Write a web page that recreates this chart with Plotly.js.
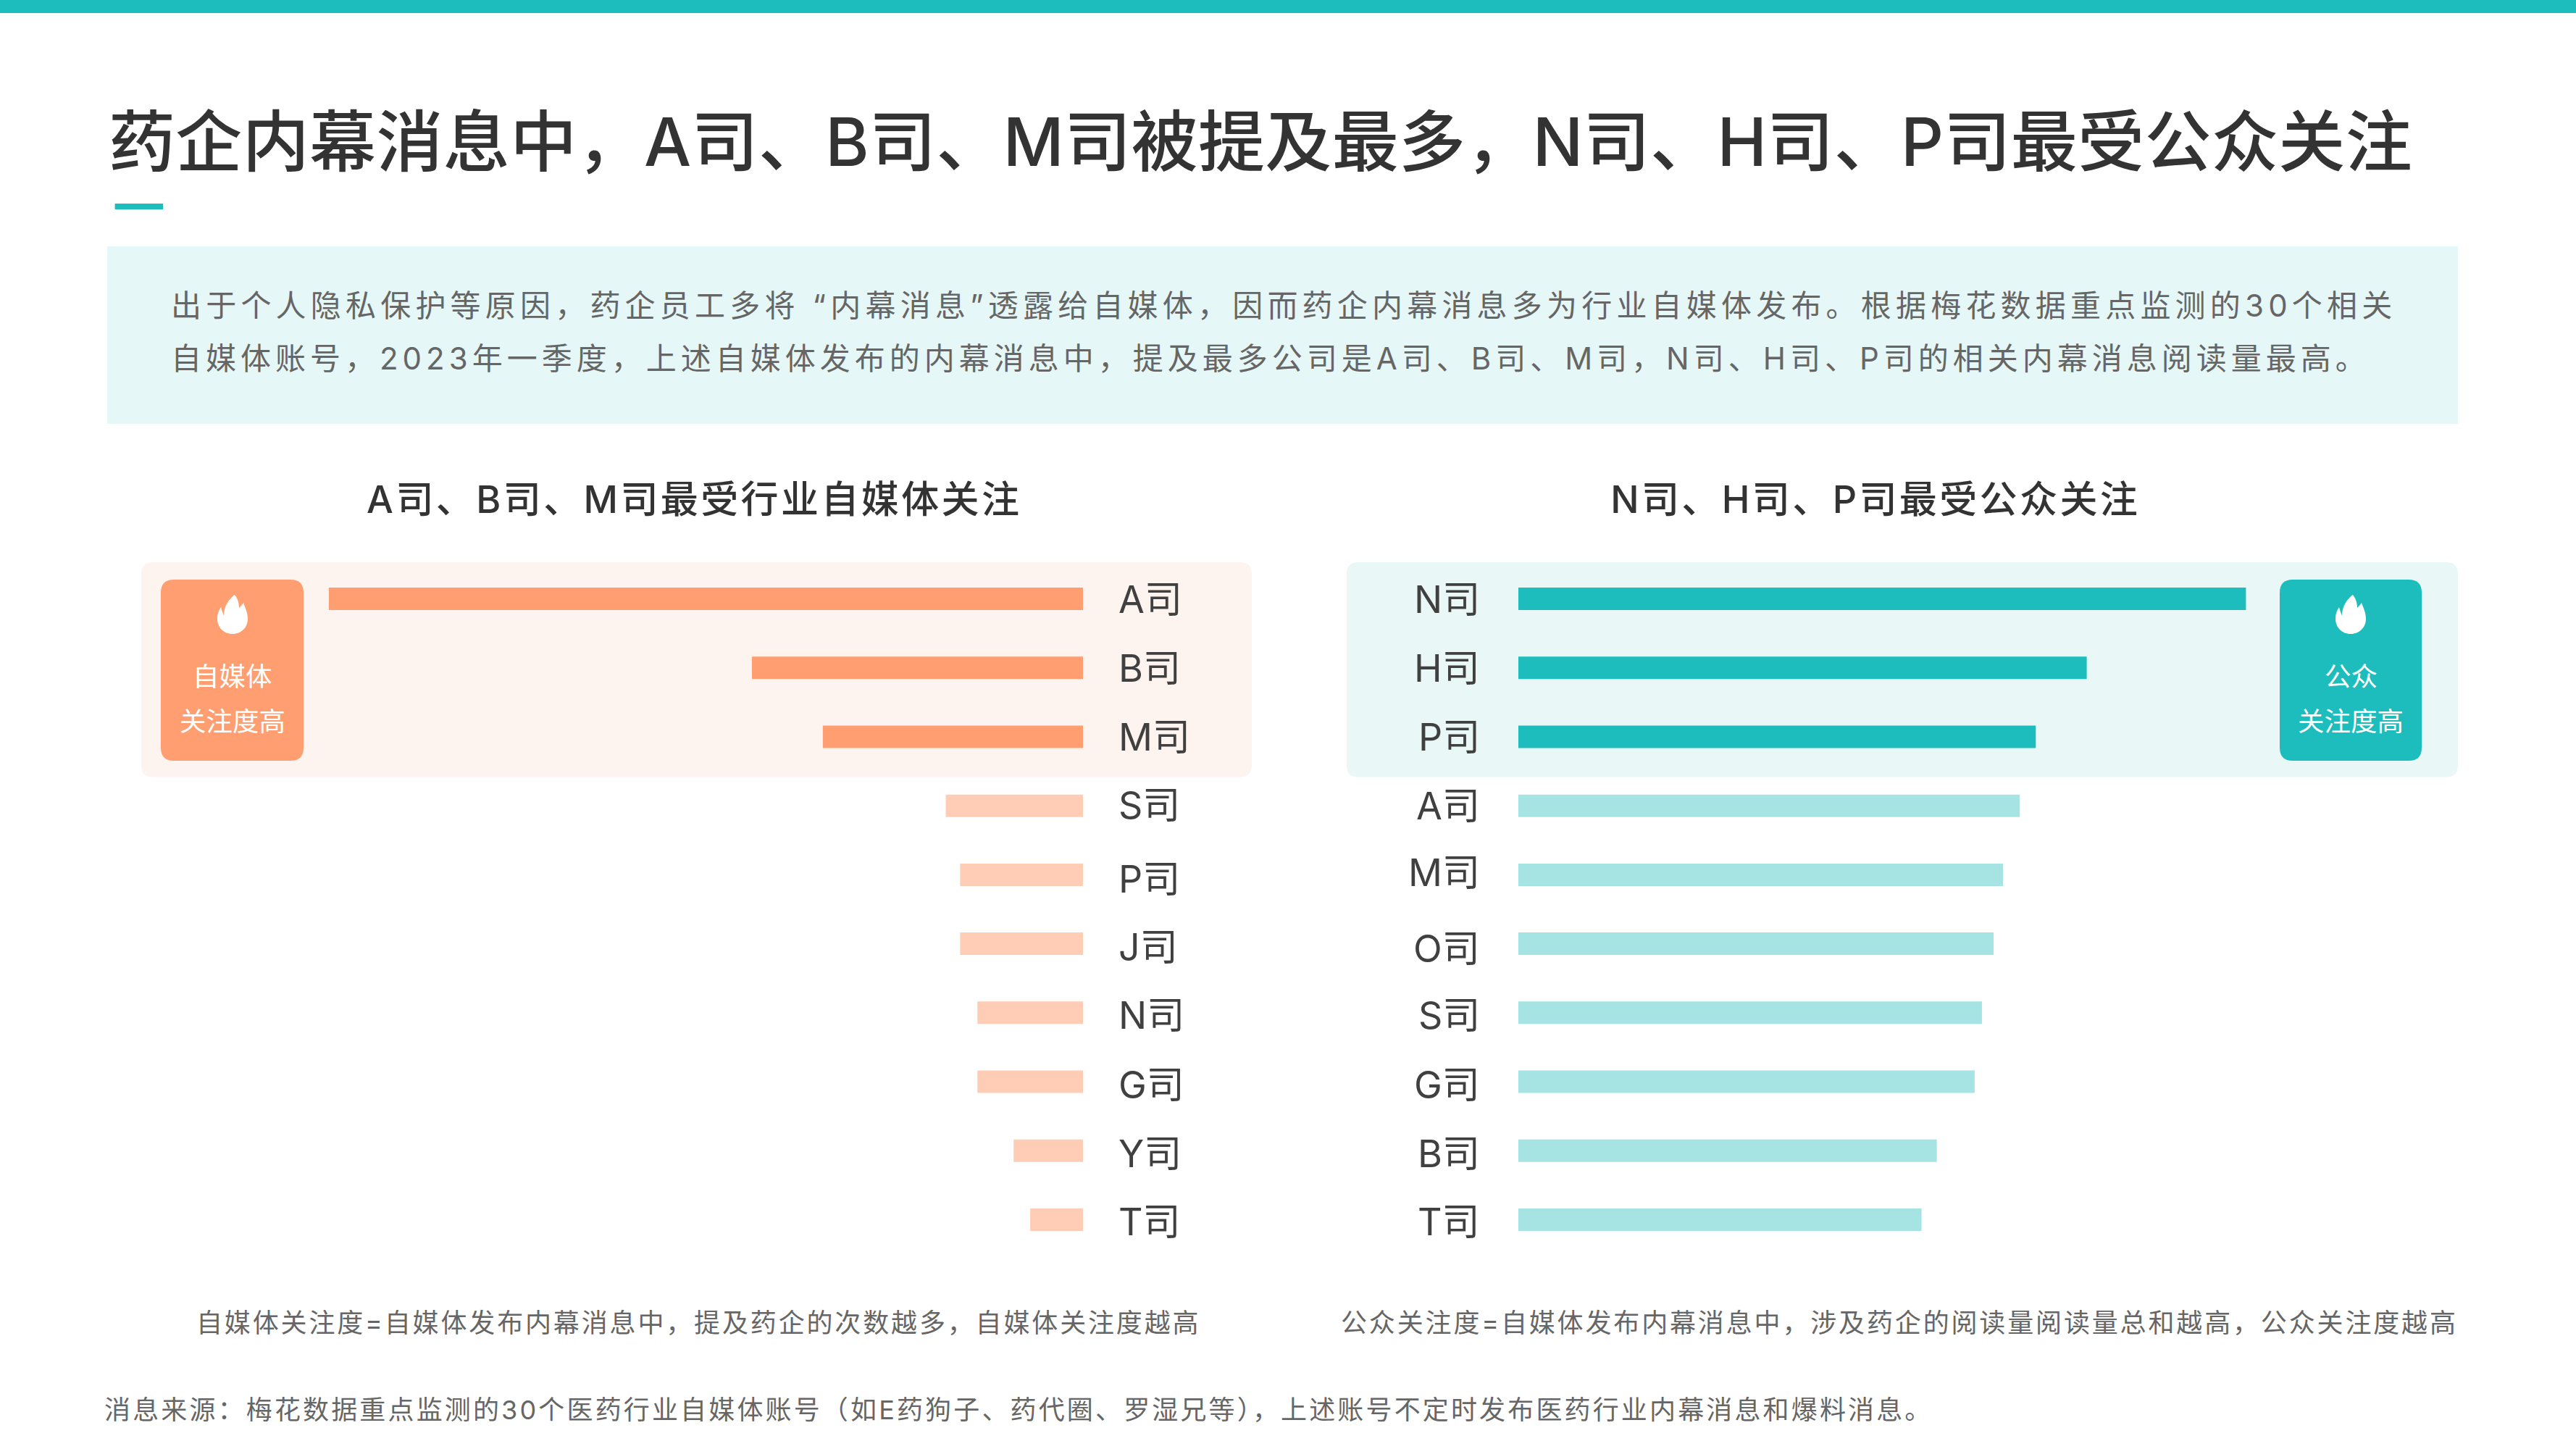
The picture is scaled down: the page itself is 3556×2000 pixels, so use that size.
<!DOCTYPE html>
<html><head><meta charset="utf-8">
<script src="https://cdn.plot.ly/plotly-3.0.1.min.js"></script>
<style>html,body{margin:0;padding:0;background:#fff}
.gtitle{letter-spacing:0.37px}</style>
</head><body><div id="chart" style="width:3556px;height:2000px"></div>
<script>
// ---- data ----
const mediaCompanies = ['A司','B司','M司','S司','P司','J司','N司','G司','Y司','T司'];
const mediaValues    = [100,43.9,34.5,18.2,16.3,16.3,14.0,14.0,9.2,7.0];
const publicCompanies = ['N司','H司','P司','A司','M司','O司','S司','G司','B司','T司'];
const publicValues    = [100,78.1,71.1,68.9,66.6,65.3,63.7,62.7,57.5,55.4];
const highlightCount = 3;

const titleText = '药企内幕消息中，A司、B司、M司被提及最多，N司、H司、P司最受公众关注';
const introLines = [
 '出于个人隐私保护等原因，药企员工多将 “内幕消息”透露给自媒体，因而药企内幕消息多为行业自媒体发布。根据梅花数据重点监测的30个相关',
 '自媒体账号，2023年一季度，上述自媒体发布的内幕消息中，提及最多公司是A司、B司、M司，N司、H司、P司的相关内幕消息阅读量最高。'];
const leftHeading = 'A司、B司、M司最受行业自媒体关注';
const rightHeading = 'N司、H司、P司最受公众关注';
const leftNote = '自媒体关注度=自媒体发布内幕消息中，提及药企的次数越多，自媒体关注度越高';
const rightNote = '公众关注度=自媒体发布内幕消息中，涉及药企的阅读量阅读量总和越高，公众关注度越高';
const sourceNote = '消息来源：梅花数据重点监测的30个医药行业自媒体账号（如E药狗子、药代圈、罗湿兄等），上述账号不定时发布医药行业内幕消息和爆料消息。';

// ---- style / layout ----
const W=3556,H=2000, CJK='Inter,"Noto Sans CJK SC","Noto Sans",sans-serif';
const TEAL='#1DBDBD',TEAL_L='#A6E4E4',TEAL_BG='#EAF7F7',ORANGE='#FF9F71',ORANGE_L='#FFCDB6',ORANGE_BG='#FEF4EF';
const px=v=>(v/W).toFixed(5), py=v=>(1-v/H).toFixed(5);
function rrect(x0,y0,x1,y1,r,fill){
  const p=`M${px(x0+r)},${py(y0)} L${px(x1-r)},${py(y0)} Q${px(x1)},${py(y0)} ${px(x1)},${py(y0+r)} L${px(x1)},${py(y1-r)} Q${px(x1)},${py(y1)} ${px(x1-r)},${py(y1)} L${px(x0+r)},${py(y1)} Q${px(x0)},${py(y1)} ${px(x0)},${py(y1-r)} L${px(x0)},${py(y0+r)} Q${px(x0)},${py(y0)} ${px(x0+r)},${py(y0)} Z`;
  return {type:'path',xref:'paper',yref:'paper',path:p,fillcolor:fill,line:{width:0},layer:'below'};
}
function box(x0,y0,x1,y1,fill){return {type:'rect',xref:'paper',yref:'paper',x0:x0/W,x1:x1/W,y0:1-y1/H,y1:1-y0/H,fillcolor:fill,line:{width:0},layer:'below'};}
function flame(cx,top){
  const P=(dx,dy)=>`${px(cx+dx)},${py(top+dy)}`;
  const d=`M${P(2.7,0)} C${P(-4,6)} ${P(-12,14)} ${P(-12,29)} C${P(-13,26)} ${P(-15,21)} ${P(-16,17)} C${P(-20,23)} ${P(-21,28)} ${P(-21,33)} C${P(-21,45)} ${P(-12,54)} ${P(0,54)} C${P(12,54)} ${P(21,45)} ${P(21,33)} C${P(21,24)} ${P(17,17)} ${P(15,11)} C${P(13,14)} ${P(11,16)} ${P(9,18)} C${P(9,10)} ${P(6,3)} ${P(2.7,0)} Z`;
  return {type:'path',xref:'paper',yref:'paper',path:d,fillcolor:'#fff',line:{width:0},layer:'above'};
}
const shapes=[
 box(0,0,W,18,TEAL), box(158.6,281,225,289,TEAL), box(148,340,3393,585,'#E6F7F7'),
 rrect(195,776,1728,1072.5,16,ORANGE_BG), rrect(1859,776,3393,1072.5,16,TEAL_BG),
 rrect(222,800,419,1050,18,ORANGE), rrect(3147,800,3343,1050,18,TEAL),
 flame(321,821), flame(3245,821)
];
const anns=[], css=[];
function note(text,x,y,size,color,anchor,spacing,weight){
  if(spacing) css.push(`g.annotation[data-index="${anns.length}"] text{letter-spacing:${spacing}px}`);
  anns.push({text,xref:'paper',yref:'paper',x:x/W,y:1-y/H,xanchor:anchor||'left',align:anchor||'left',yanchor:'middle',showarrow:false,
    font:{family:CJK,size,color,weight:weight||400},borderpad:0,borderwidth:0});
}
note(introLines[0],236,422,42,'#666','left',6.2);
note(introLines[1],236,494,42,'#666','left',6.0);
note(leftHeading,958,689,52,'#333','center',3.4,500);
note(rightHeading,2588,689,52,'#333','center',3.4,500);
note('自媒体',321,934,36.5,'#fff','center');
note('关注度高',321,996,36.5,'#fff','center');
note('公众',3245,934,36.5,'#fff','center');
note('关注度高',3245,996,36.5,'#fff','center');
note(leftNote,271,1826,36,'#666','left',2.85);
note(rightNote,1851,1826,36,'#666','left',2.85);
note(sourceNote,144,1946,36,'#666','left',3.15);

// category labels, anchored to each bar through the data axes
const leftLift =[1,1,1,-1,6,5,4,4,4,3], rightLift=[1,1,1,0,-3,7,4,4,4,3];
mediaCompanies.forEach((c,i)=>anns.push({text:c,xref:'x',yref:'y',x:0,y:c,xanchor:'left',xshift:48,yanchor:'middle',yshift:-leftLift[i],showarrow:false,font:{family:CJK,size:52,color:'#404040'},borderpad:0}));
publicCompanies.forEach((c,i)=>anns.push({text:c,xref:'x2',yref:'y2',x:0,y:c,xanchor:'right',xshift:-52,yanchor:'middle',yshift:-rightLift[i],showarrow:false,font:{family:CJK,size:52,color:'#404040'},borderpad:0}));

const st=document.createElement('style'); st.textContent=css.join('\n'); document.head.appendChild(st);

const colorsBy=(arr,a,b)=>arr.map((_,i)=>i<highlightCount?a:b);
const traces=[
 {type:'bar',orientation:'h',x:mediaValues,y:mediaCompanies,width:0.326,marker:{color:colorsBy(mediaValues,ORANGE,ORANGE_L),line:{width:0}},xaxis:'x',yaxis:'y',hoverinfo:'x+y',name:'自媒体关注度'},
 {type:'bar',orientation:'h',x:publicValues,y:publicCompanies,width:0.326,marker:{color:colorsBy(publicValues,TEAL,TEAL_L),line:{width:0}},xaxis:'x2',yaxis:'y2',hoverinfo:'x+y',name:'公众关注度'}
];
const yDom=[1-1731/H,1-779/H];
const hidden={showgrid:false,zeroline:false,showline:false,ticks:'',showticklabels:false,fixedrange:true};
const layout={
 width:W,height:H,margin:{l:0,r:0,t:0,b:0,pad:0},paper_bgcolor:'#fff',plot_bgcolor:'rgba(0,0,0,0)',showlegend:false,
 title:{text:titleText,x:150/W,xanchor:'left',xref:'paper',y:1-197/H,yanchor:'middle',yref:'paper',font:{family:CJK,size:92,color:'#333',weight:500},pad:{t:0,b:0,l:0,r:0}},
 xaxis:Object.assign({},hidden,{domain:[454/W,1495/W],range:[100,0],anchor:'y'}),
 yaxis:Object.assign({},hidden,{domain:yDom,type:'category',categoryorder:'array',categoryarray:mediaCompanies,range:[9.5,-0.5],anchor:'x'}),
 xaxis2:Object.assign({},hidden,{domain:[2096/W,3100.6/W],range:[0,100],anchor:'y2'}),
 yaxis2:Object.assign({},hidden,{domain:yDom,type:'category',categoryorder:'array',categoryarray:publicCompanies,range:[9.5,-0.5],anchor:'x2'}),
 shapes,annotations:anns
};
Plotly.newPlot('chart',traces,layout,{displayModeBar:false,staticPlot:true});
</script></body></html>
